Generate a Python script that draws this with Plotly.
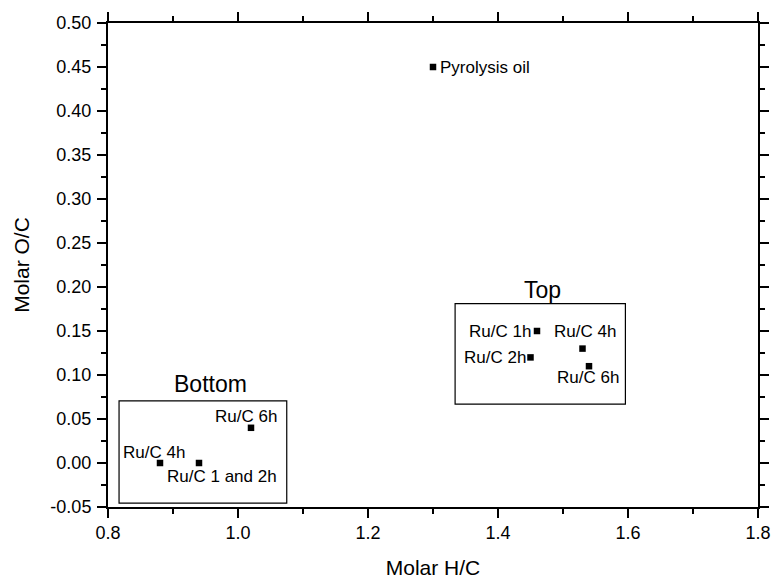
import plotly.graph_objects as go

# Data
names = ["Pyrolysis oil", "Ru/C 4h", "Ru/C 1 and 2h", "Ru/C 6h",
         "Ru/C 1h", "Ru/C 2h", "Ru/C 4h", "Ru/C 6h"]
hc = [1.30, 0.88, 0.94, 1.02, 1.46, 1.45, 1.53, 1.54]
oc = [0.45, 0.00, 0.00, 0.04, 0.15, 0.12, 0.13, 0.11]

x_ticks = [0.8, 1.0, 1.2, 1.4, 1.6, 1.8]
y_ticks = [-0.05, 0.00, 0.05, 0.10, 0.15, 0.20, 0.25, 0.30, 0.35, 0.40, 0.45, 0.50]

group_labels = ["Bottom", "Top"]
group_label_x = [0.957, 1.468]
group_label_y = [0.090, 0.197]
box_x0 = [0.817, 1.334]
box_x1 = [1.075, 1.596]
box_y0 = [-0.0455, 0.067]
box_y1 = [0.0705, 0.181]

FONT = "Liberation Sans, Arial, sans-serif"

# label placement (style): xanchor, yanchor, xshift, yshift
label_style = [
    ("left", "middle", 5, 0),
    ("center", "middle", -6, 11),
    ("center", "middle", 23, -13),
    ("center", "middle", -5, 11),
    ("right", "middle", -4, 0),
    ("right", "middle", -3, 0),
    ("center", "middle", 2, 17),
    ("center", "middle", -1, -11),
]

fig = go.Figure()
fig.add_trace(go.Scatter(
    x=hc, y=oc, mode="markers",
    marker=dict(symbol="square", size=6.5, color="black"),
    showlegend=False, hoverinfo="skip", cliponaxis=False))

annotations = []
for n, x, y, (xa, ya, xs, ys) in zip(names, hc, oc, label_style):
    annotations.append(dict(x=x, y=y, xref="x", yref="y", text=n, showarrow=False,
                            xanchor=xa, yanchor=ya, xshift=xs, yshift=ys,
                            font=dict(family=FONT, size=17, color="black")))
for t, x, y in zip(group_labels, group_label_x, group_label_y):
    annotations.append(dict(x=x, y=y, xref="x", yref="y", text=t, showarrow=False,
                            xanchor="center", yanchor="middle",
                            font=dict(family=FONT, size=23, color="black")))

shapes = []
for a, b, c, d in zip(box_x0, box_x1, box_y0, box_y1):
    shapes.append(dict(type="rect", xref="x", yref="y", x0=a, x1=b, y0=c, y1=d,
                       line=dict(color="black", width=1.2), fillcolor="rgba(0,0,0,0)"))

axis_common = dict(
    showgrid=False, zeroline=False, showline=True, linecolor="black", linewidth=2,
    mirror="ticks", ticks="outside", ticklen=9, tickwidth=1.5, tickcolor="black",
    tickfont=dict(family=FONT, size=18, color="black"), automargin=False,
)

fig.update_layout(
    width=772, height=579,
    margin=dict(l=108, r=14, t=23, b=72),
    plot_bgcolor="white", paper_bgcolor="white",
    annotations=annotations, shapes=shapes,
    xaxis=dict(range=[0.8, 1.8], tickvals=x_ticks,
               ticktext=[f"{v:.1f}" for v in x_ticks],
               ticklabelstandoff=-1,
               minor=dict(dtick=0.1, tick0=0.8, ticks="outside", ticklen=5, tickwidth=1.5, tickcolor="black"),
               title=dict(text="Molar H/C", font=dict(family=FONT, size=21, color="black"), standoff=19),
               **axis_common),
    yaxis=dict(range=[-0.05, 0.50], tickvals=y_ticks,
               ticktext=[f"{v:.2f}" for v in y_ticks],
               ticklabelstandoff=2,
               minor=dict(dtick=0.025, tick0=0, ticks="outside", ticklen=5, tickwidth=1.5, tickcolor="black"),
               title=dict(text="Molar O/C", font=dict(family=FONT, size=21, color="black"), standoff=15),
               **axis_common),
)

# remove the default 8px page margin so the figure fills the window exactly
fig.write_html("out.html",
               config={"displayModeBar": False, "staticPlot": True},
               post_script="document.body.style.margin='0';document.body.style.overflow='hidden';")
